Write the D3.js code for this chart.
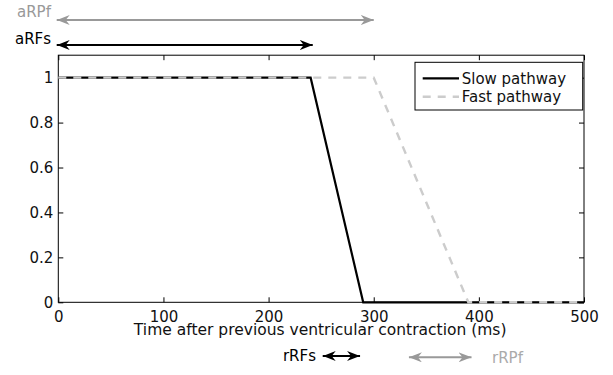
<!DOCTYPE html>
<html>
<head>
<meta charset="utf-8">
<script src="https://cdn.jsdelivr.net/npm/d3@7"></script>
<style>
  body { margin: 0; background: #fff; }
  svg text { font-family: "DejaVu Sans", sans-serif; }
</style>
</head>
<body>
<div id="chart"></div>
<script>
// data
const slowTime = [0, 240, 290, 500];
const slowValue = [1, 1, 0, 0];
const fastTime = [0, 300, 390, 500];
const fastValue = [1, 1, 0, 0];
const xTicks = [0, 100, 200, 300, 400, 500];
const yTicks = [0, 0.2, 0.4, 0.6, 0.8, 1];
const seriesNames = ["Slow pathway", "Fast pathway"];
const arrowNames = ["aRPf", "aRFs", "rRFs", "rRPf"];
const arrowFrom = [0, 0, 253, 335];
const arrowTo = [300, 242, 287, 393];

const width = 613, height = 375;
const margin = {top: 55.2, right: 29, bottom: 72.7, left: 58.3};
const w = width - margin.left - margin.right;
const h = height - margin.top - margin.bottom;

const svg = d3.select("#chart").append("svg")
    .attr("width", width)
    .attr("height", height);

const x = d3.scaleLinear().domain([0, 500]).range([margin.left, margin.left + w]);
const y = d3.scaleLinear().domain([0, 1.1]).range([margin.top + h, margin.top]);

// ticks on all four sides, pointing inward
const axisOpts = g => g.selectAll(".domain").remove();
svg.append("g")
    .attr("transform", `translate(0,${margin.top + h})`)
    .call(d3.axisBottom(x).tickValues(xTicks).tickSize(-5).tickPadding(9))
    .call(axisOpts);
svg.append("g")
    .attr("transform", `translate(0,${margin.top})`)
    .call(d3.axisTop(x).tickValues(xTicks).tickSize(-5).tickFormat(""))
    .call(axisOpts);
svg.append("g")
    .attr("transform", `translate(${margin.left},0)`)
    .call(d3.axisLeft(y).tickValues(yTicks).tickSize(-5).tickPadding(5).tickFormat(d3.format("~g")))
    .call(axisOpts);
svg.append("g")
    .attr("transform", `translate(${margin.left + w},0)`)
    .call(d3.axisRight(y).tickValues(yTicks).tickSize(-5).tickFormat(""))
    .call(axisOpts);

svg.selectAll(".tick line").attr("stroke", "#000");
svg.selectAll(".tick text").attr("fill", "#111").style("font-size", "15px");

svg.append("rect")
    .attr("x", margin.left).attr("y", margin.top)
    .attr("width", w).attr("height", h)
    .attr("fill", "none").attr("stroke", "#000").attr("stroke-width", 1);

// lines
const line = d3.line().x(d => x(d[0])).y(d => y(d[1]));
svg.append("path")
    .datum(slowTime.map((t, i) => [t, slowValue[i]]))
    .attr("d", line)
    .attr("fill", "none").attr("stroke", "#000").attr("stroke-width", 2.2);
svg.append("path")
    .datum(fastTime.map((t, i) => [t, fastValue[i]]))
    .attr("d", line)
    .attr("fill", "none").attr("stroke", "#ccc").attr("stroke-width", 2.4)
    .attr("stroke-dasharray", "8,7");

// x label
svg.append("text")
    .attr("x", (x(0) + x(500)) / 2 - 1)
    .attr("y", 335)
    .attr("text-anchor", "middle")
    .style("font-size", "15.5px")
    .attr("fill", "#111")
    .text("Time after previous ventricular contraction (ms)");

// legend
const leg = svg.append("g");
leg.append("rect")
    .attr("x", 415).attr("y", 62.3).attr("width", 167.7).attr("height", 47.7)
    .attr("fill", "#fff").attr("stroke", "#000").attr("stroke-width", 1);
const legStyle = [
  {stroke: "#000", width: 2.2, dash: null},
  {stroke: "#ccc", width: 2.4, dash: "8,7"}
];
seriesNames.forEach((name, i) => {
  const cy = 78.3 + i * 18.4;
  leg.append("line")
      .attr("x1", 422.7).attr("x2", 459).attr("y1", cy).attr("y2", cy)
      .attr("stroke", legStyle[i].stroke).attr("stroke-width", legStyle[i].width)
      .attr("stroke-dasharray", legStyle[i].dash);
  leg.append("text")
      .attr("x", 461.7).attr("y", cy + 5.5)
      .style("font-size", "15px").attr("fill", "#111")
      .text(name);
});

// refractory period arrows
const defs = svg.append("defs");
function marker(id, color) {
  defs.append("marker")
      .attr("id", id)
      .attr("viewBox", "0 0 13 10")
      .attr("refX", 13).attr("refY", 5)
      .attr("markerWidth", 13).attr("markerHeight", 10)
      .attr("markerUnits", "userSpaceOnUse")
      .attr("orient", "auto-start-reverse")
    .append("path")
      .attr("d", "M0,0 L13,5 L0,10 L4,5 Z")
      .attr("fill", color);
}
marker("headBlack", "#000");
marker("headGrey", "#999");

const arrowLayout = [
  {y: 20, color: "#999", head: "headGrey", labelX: 17, labelY: 16.5, anchor: "start", labelColor: "#999"},
  {y: 45, color: "#000", head: "headBlack", labelX: 15, labelY: 43.5, anchor: "start", labelColor: "#000"},
  {y: 356, color: "#000", head: "headBlack", labelX: 316, labelY: 361, anchor: "end", labelColor: "#000"},
  {y: 357.3, color: "#999", head: "headGrey", labelX: 492, labelY: 363, anchor: "start", labelColor: "#aaa"}
];
arrowNames.forEach((name, i) => {
  const L = arrowLayout[i];
  svg.append("line")
      .attr("x1", x(arrowFrom[i]) - 1.6).attr("x2", x(arrowTo[i]))
      .attr("y1", L.y).attr("y2", L.y)
      .attr("stroke", L.color).attr("stroke-width", 2)
      .attr("marker-start", `url(#${L.head})`)
      .attr("marker-end", `url(#${L.head})`);
  svg.append("text")
      .attr("x", L.labelX).attr("y", L.labelY)
      .attr("text-anchor", L.anchor)
      .style("font-size", "15px")
      .attr("fill", L.labelColor)
      .text(name);
});
</script>
</body>
</html>
